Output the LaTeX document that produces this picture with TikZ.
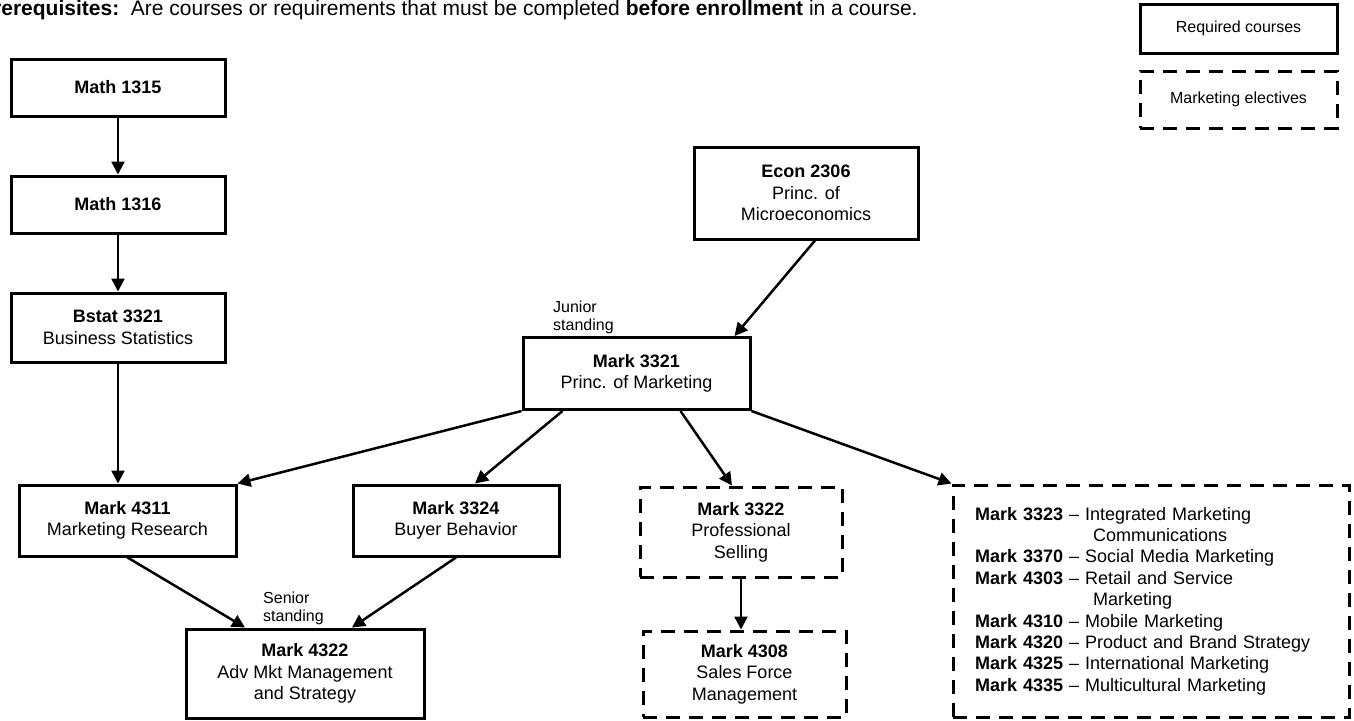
\documentclass[tikz,border=0pt]{standalone}
\usepackage{fontspec}
\setmainfont{Liberation Sans}
\usepackage{tikz}
\usetikzlibrary{arrows.meta, positioning}
\usepackage{xcolor}

\begin{document}
\begin{tikzpicture}[
x=1pt, y=-1pt,
node distance=57pt,
box/.style={draw,
rectangle,
line width=3pt,
inner sep=0pt,
align=center,
font=\fontsize{18}{21.6}\selectfont},
ebox/.style={box, dash pattern=on 14pt off 9pt},
note/.style={inner sep=0pt, align=left, font=\fontsize{16}{18}\selectfont},
arrow/.style={-{Triangle[length=13pt, width=13pt]}, line width=2.5pt}
]

\useasboundingbox (0,0) rectangle (1354,720);

\node[anchor=base west, inner sep=0pt, font=\fontsize{21}{25}\selectfont] (title) at (-21,16)
{\textbf{Prerequisites:}\ \ Are courses or requirements that must be completed \textbf{before enrollment} in a course.};

% legend
\node[box, minimum width=197pt, minimum height=49pt, font=\fontsize{16}{19}\selectfont] (legreq) at (1238.5,28.5) {Required courses};
\node[ebox, minimum width=197pt, minimum height=57pt, font=\fontsize{16}{19}\selectfont] (legelec) at (1238.5,99.5) {Marketing electives};

\node[box, minimum width=214pt, minimum height=57pt] (math1315) at (118,87.5) {\textbf{Math 1315}};
\node[box, minimum width=214pt, minimum height=57pt, below=of math1315] (math1316) {\textbf{Math 1316}};
\node[box, minimum width=214pt, minimum height=69pt, below=of math1316] (bstat) {\textbf{Bstat 3321}\\Business Statistics};

\node[box, minimum width=224pt, minimum height=92pt] (econ) at (806,193) {\textbf{Econ 2306}\\Princ. of\\Microeconomics};
\node[box, minimum width=227pt, minimum height=72pt] (mark3321) at (636.5,373.5) {\textbf{Mark 3321}\\Princ. of Marketing};

\node[box, minimum width=217pt, minimum height=71pt] (mark4311) at (127.5,520.5) {\textbf{Mark 4311}\\Marketing Research};
\node[box, minimum width=206pt, minimum height=71pt] (mark3324) at (456,520.5) {\textbf{Mark 3324}\\Buyer Behavior};
\node[ebox, minimum width=202pt, minimum height=90pt] (mark3322) at (741,532) {\textbf{Mark 3322}\\Professional\\Selling};
\node[ebox, minimum width=203pt, minimum height=86pt] (mark4308) at (744.5,674) {\textbf{Mark 4308}\\Sales Force\\Management};
\node[box, minimum width=238pt, minimum height=89pt] (mark4322) at (305,673.5) {\textbf{Mark 4322}\\Adv Mkt Management\\and Strategy};

\node[ebox, minimum height=232pt, text width=352pt, inner xsep=22pt, align=left, font=\fontsize{18}{21.4}\selectfont] (electives) at (1151,601)
{\textbf{Mark 3323} -- Integrated Marketing\\
\hspace*{118pt}Communications\\
\textbf{Mark 3370} -- Social Media Marketing\\
\textbf{Mark 4303} -- Retail and Service\\
\hspace*{118pt}Marketing\\
\textbf{Mark 4310} -- Mobile Marketing\\
\textbf{Mark 4320} -- Product and Brand Strategy\\
\textbf{Mark 4325} -- International Marketing\\
\textbf{Mark 4335} -- Multicultural Marketing};

\node[note, anchor=west] (junior) at (553,317) {Junior\\standing};
\node[note, anchor=west] (senior) at (263,608.5) {Senior\\standing};

\draw[arrow] (math1315) -- (math1316);
\draw[arrow] (math1316) -- (bstat);
\draw[arrow] (bstat.south) -- (bstat.south |- mark4311.north);
\draw[arrow] ([xshift=9pt]econ.south) -- ([xshift=98pt]mark3321.north);
\draw[arrow] (mark3321.south west) -- (mark4311.north east);
\draw[arrow] ([xshift=-74pt]mark3321.south) -- ([xshift=19pt]mark3324.north);
\draw[arrow] ([xshift=44pt]mark3321.south) -- ([xshift=-9pt]mark3322.north);
\draw[arrow] (mark3321.south east) -- (electives.north west);
\draw[arrow] (mark4311.south) -- ([xshift=-60pt]mark4322.north);
\draw[arrow] (mark3324.south) -- ([xshift=47pt]mark4322.north);
\draw[arrow] (mark3322.south) -- (mark3322.south |- mark4308.north);

\end{tikzpicture}
\end{document}
